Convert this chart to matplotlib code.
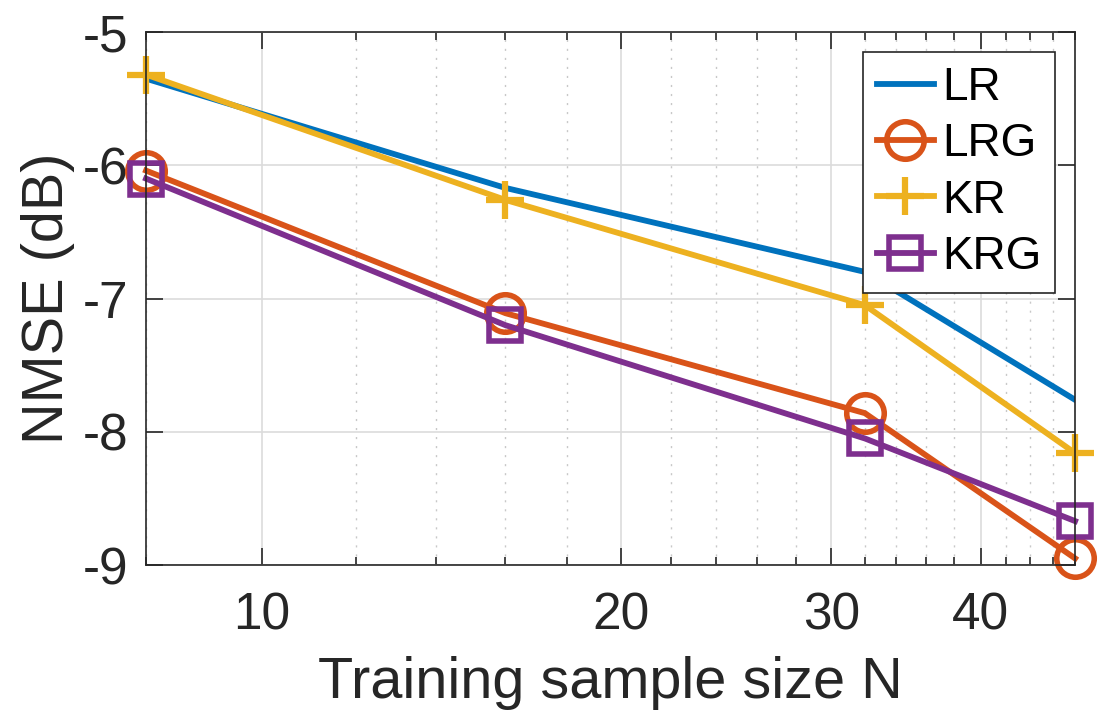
import numpy as np
import matplotlib
matplotlib.use("Agg")
import matplotlib.pyplot as plt
from matplotlib.ticker import FixedLocator, NullFormatter

# training sample sizes and NMSE (dB) per method
sample_sizes = [8, 16, 32, 48]
nmse_lr = [-5.35, -6.17, -6.80, -7.76]
nmse_lrg = [-6.04, -7.11, -7.86, -8.95]
nmse_kr = [-5.32, -6.26, -7.05, -8.16]
nmse_krg = [-6.10, -7.20, -8.05, -8.67]

x_major = [10, 20, 30, 40]
x_minor = [8, 12, 14, 16, 18, 22, 24, 26, 28, 32, 34, 36, 38, 42, 44, 46, 48]
y_ticks = [-9, -8, -7, -6, -5]

plt.rcParams['font.family'] = ['Liberation Sans', 'DejaVu Sans']
plt.rcParams['axes.unicode_minus'] = False

fig = plt.figure(figsize=(11.2, 7.21), dpi=100)
ax = fig.add_axes([0.1304, 0.2163, 0.8295, 0.7393])

lw = 4.2
ax.plot(sample_sizes, nmse_lr, color='#0072BD', lw=lw, label='LR')
ax.plot(sample_sizes, nmse_lrg, color='#D95319', lw=lw, marker='o', ms=27,
        mfc='none', mew=4, label='LRG', clip_on=False)
ax.plot(sample_sizes, nmse_kr, color='#EDB120', lw=lw, marker='+', ms=27,
        mew=4.5, label='KR', clip_on=False)
ax.plot(sample_sizes, nmse_krg, color='#7E2F8E', lw=lw, marker='s', ms=23,
        mfc='none', mew=4, label='KRG', clip_on=False)

ax.set_xscale('log')
ax.set_xlim(8, 48)
ax.set_ylim(-9, -5)
ax.xaxis.set_major_locator(FixedLocator(x_major))
ax.xaxis.set_minor_locator(FixedLocator(x_minor))
ax.xaxis.set_minor_formatter(NullFormatter())
ax.set_xticklabels([str(v) for v in x_major])
ax.set_yticks(y_ticks)
ax.set_yticklabels([str(v) for v in y_ticks])

ax.grid(which='major', color='#dcdcdc', lw=1.2, ls='-')
ax.grid(which='minor', axis='x', color='#c8c8c8', lw=1.0, ls=(0, (1.5, 5)))
ax.set_axisbelow(True)

ax.tick_params(which='both', direction='in', top=True, right=True,
               labelsize=37, colors='#262626', width=1.2)
ax.tick_params(which='major', length=12)
ax.tick_params(which='minor', length=6)
ax.tick_params(axis='x', pad=19)
ax.tick_params(axis='y', pad=13)
for s in ax.spines.values():
    s.set_color('#262626')
    s.set_linewidth(1.2)

ax.set_xlabel('Training sample size N', fontsize=41.5, color='#262626', labelpad=11)
ax.set_ylabel('NMSE (dB)', fontsize=41.5, color='#262626', labelpad=5)

leg = ax.legend(loc='upper right', bbox_to_anchor=(0.9785, 0.9625), fontsize=33,
                handlelength=1.25, handletextpad=0.18, borderpad=0.3,
                labelspacing=0.27, fancybox=False, framealpha=1,
                borderaxespad=0)
leg.get_frame().set_edgecolor('#262626')
leg.get_frame().set_linewidth(1.2)
for t in leg.get_texts():
    t.set_color('black')

fig.savefig('out.png', dpi=100)
